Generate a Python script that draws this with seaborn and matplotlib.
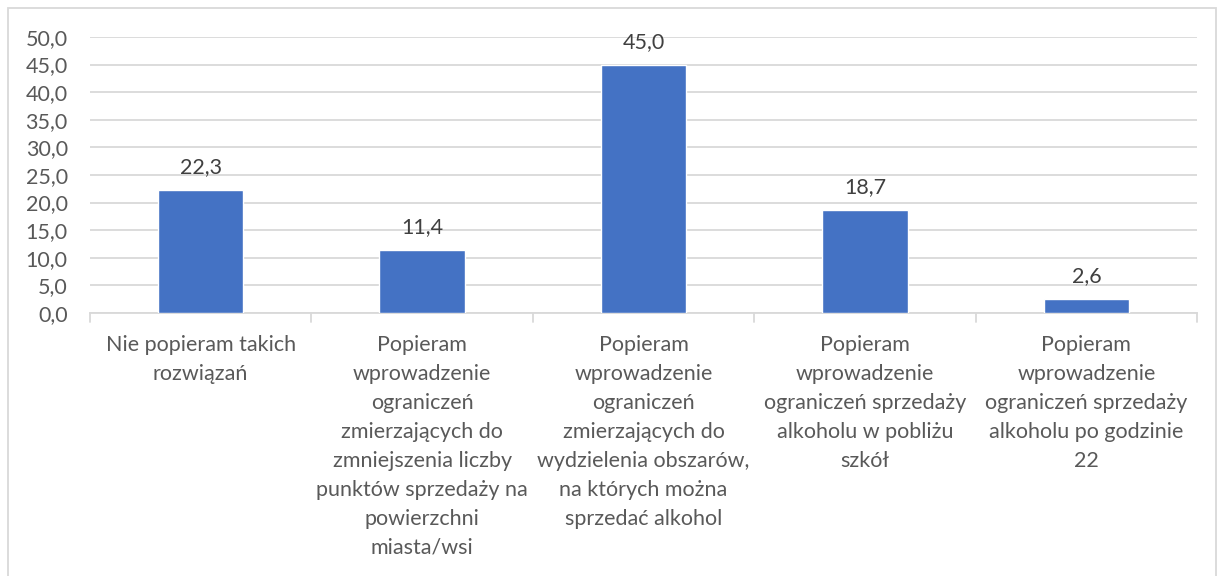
import matplotlib
matplotlib.use("Agg")
import matplotlib.pyplot as plt
import seaborn as sns
import pandas as pd
from matplotlib.patches import Rectangle

categories = [
    "Nie popieram takich\nrozwiązań",
    "Popieram\nwprowadzenie\nograniczeń\nzmierzających do\nzmniejszenia liczby\npunktów sprzedaży na\npowierzchni\nmiasta/wsi",
    "Popieram\nwprowadzenie\nograniczeń\nzmierzających do\nwydzielenia obszarów,\nna których można\nsprzedać alkohol",
    "Popieram\nwprowadzenie\nograniczeń sprzedaży\nalkoholu w pobliżu\nszkół",
    "Popieram\nwprowadzenie\nograniczeń sprzedaży\nalkoholu po godzinie\n22",
]
values = [22.3, 11.4, 45.0, 18.7, 2.6]
y_ticks = [0, 5, 10, 15, 20, 25, 30, 35, 40, 45, 50]

sns.set_theme(style="white")
plt.rcParams["font.family"] = ["Lato", "DejaVu Sans"]

text_color = "#595959"
grid_color = "#D9D9D9"
bar_color = "#4472C4"
fs = 15.5

df = pd.DataFrame({"cat": categories, "val": values})

fig = plt.figure(figsize=(12.24, 5.76), dpi=100)
ax = fig.add_axes([0.0735, 0.4566, 0.9045, 0.4792])

sns.barplot(data=df, x="cat", y="val", color=bar_color, width=0.385,
            saturation=1, ax=ax, zorder=3)

ax.set_ylim(0, 50)
ax.set_xlim(-0.5, len(categories) - 0.5)
ax.set_yticks(y_ticks)
ax.set_yticklabels([f"{v:.1f}".replace(".", ",") for v in y_ticks],
                   fontsize=fs, color=text_color)
ax.yaxis.grid(True, color=grid_color, linewidth=1.3, zorder=0)
ax.set_axisbelow(True)
ax.tick_params(axis="y", length=0, pad=16)

# category labels below the axis
ax.set_xticks(range(len(categories)))
ax.set_xticklabels(categories, fontsize=fs, color=text_color,
                   linespacing=1.56, va="top")
ax.tick_params(axis="x", length=0, pad=16)

# separator ticks between categories
for xb in [i - 0.5 for i in range(len(categories) + 1)]:
    ax.plot([xb, xb], [0, -1.6], color=grid_color, lw=1.3,
            clip_on=False, zorder=2)

for s in ["top", "right", "left"]:
    ax.spines[s].set_visible(False)
ax.spines["bottom"].set_color(grid_color)
ax.spines["bottom"].set_linewidth(1.3)

ax.set_xlabel("")
ax.set_ylabel("")

# value labels above bars
for i, v in enumerate(values):
    ax.annotate(f"{v:.1f}".replace(".", ","), (i, v), xytext=(0, 9),
                textcoords="offset points", ha="center", va="bottom",
                fontsize=fs, color="#404040")

# light frame around the chart area
fig.patches.append(Rectangle((8 / 1224, -0.01), 1208 / 1224, 1 - 8 / 576 + 0.01,
                             transform=fig.transFigure, fill=False,
                             edgecolor=grid_color, linewidth=1.3))

fig.savefig("out.png", dpi=100, facecolor="white")
